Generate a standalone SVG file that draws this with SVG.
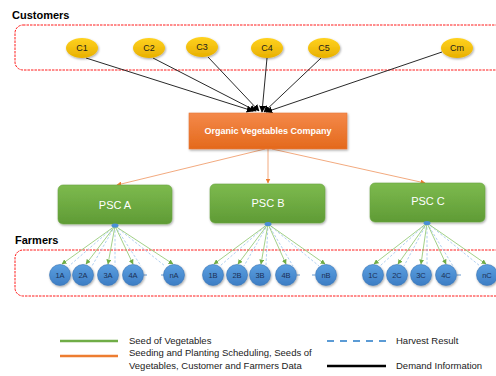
<svg xmlns="http://www.w3.org/2000/svg" width="496" height="376" viewBox="0 0 496 376">
<defs>
<linearGradient id="gY" x1="0" y1="0" x2="0" y2="1"><stop offset="0" stop-color="#ffd21f"/><stop offset="1" stop-color="#e8b000"/></linearGradient>
<linearGradient id="gO" x1="0" y1="0" x2="0" y2="1"><stop offset="0" stop-color="#f4894a"/><stop offset="1" stop-color="#e4691c"/></linearGradient>
<linearGradient id="gG" x1="0" y1="0" x2="0" y2="1"><stop offset="0" stop-color="#7dba4e"/><stop offset="1" stop-color="#5f9b35"/></linearGradient>
<linearGradient id="gB" x1="0" y1="0" x2="0" y2="1"><stop offset="0" stop-color="#5b9fe0"/><stop offset="1" stop-color="#3d7dc4"/></linearGradient>
<filter id="sh" x="-20%" y="-20%" width="140%" height="150%"><feDropShadow dx="0.8" dy="1.2" stdDeviation="0.9" flood-color="#000" flood-opacity="0.35"/></filter>
<marker id="mK" viewBox="0 0 10 10" refX="9" refY="5" markerWidth="7" markerHeight="7" orient="auto" markerUnits="userSpaceOnUse"><path d="M0,0 L10,5 L0,10 z" fill="#000"/></marker>
<marker id="mO" viewBox="0 0 10 10" refX="9" refY="5" markerWidth="5" markerHeight="5" orient="auto" markerUnits="userSpaceOnUse"><path d="M0,0 L10,5 L0,10 z" fill="#ed7d31"/></marker>
<marker id="mG" viewBox="0 0 10 10" refX="9" refY="5" markerWidth="5" markerHeight="5" orient="auto" markerUnits="userSpaceOnUse"><path d="M0,0 L10,5 L0,10 z" fill="#70ad47"/></marker>
</defs>
<style>
.lbl{font-family:"Liberation Sans",Arial,sans-serif;font-weight:bold;font-size:11px;fill:#000}
.zone{fill:none;stroke:#ff1a1a;stroke-width:1;stroke-dasharray:2.5 1}
.cust{fill:url(#gY);filter:url(#sh)}
.ct{font-family:"Liberation Sans",Arial,sans-serif;font-size:9px;fill:#1a1a1a;text-anchor:middle}
.psc{fill:url(#gG);stroke:#6aa640;stroke-width:0.6;filter:url(#sh)}
.pt{font-family:"Liberation Sans",Arial,sans-serif;font-size:11px;fill:#fff;text-anchor:middle}
.farm{fill:url(#gB);stroke:#3a75b5;stroke-width:0.6;filter:url(#sh)}
.ft{font-family:"Liberation Sans",Arial,sans-serif;font-size:7.5px;fill:#1c2f55;text-anchor:middle}
.dem{stroke:#111;stroke-width:0.9;fill:none;marker-end:url(#mK)}
.org{stroke:#f0a070;stroke-width:0.9;fill:none;marker-end:url(#mO)}
.grn{stroke:#8cc46a;stroke-width:0.8;fill:none;marker-end:url(#mG)}
.hv{stroke:#9cc3ec;stroke-width:0.8;fill:none;stroke-dasharray:2.5 1.8}
.tick{stroke:#3d7dc4;stroke-width:0.8}
.hub{fill:#4a8fd6}
.lg{font-family:"Liberation Sans",Arial,sans-serif;font-size:9.5px;fill:#222}
</style>

<text class="lbl" x="12" y="19">Customers</text>
<rect class="zone" x="15" y="25" width="500" height="45" rx="8"/>
<text class="lbl" x="15" y="244">Farmers</text>
<rect class="zone" x="15" y="250" width="500" height="46" rx="8"/>

<g id="connectors">
<line class="dem" x1="86" y1="58" x2="253" y2="111"/>
<line class="dem" x1="153" y1="58" x2="256" y2="111"/>
<line class="dem" x1="208" y1="57" x2="259" y2="111"/>
<line class="dem" x1="267" y1="58" x2="262" y2="112"/>
<line class="dem" x1="321" y1="58" x2="264" y2="112"/>
<line class="dem" x1="442" y1="52" x2="266" y2="112"/>
<line class="org" x1="265" y1="149" x2="117" y2="185"/>
<line class="org" x1="268" y1="149" x2="268" y2="183"/>
<line class="org" x1="272" y1="149" x2="425" y2="183"/>
<g>
<line class="hv" x1="115" y1="226" x2="69" y2="266"/>
<line class="hv" x1="115" y1="226" x2="92" y2="266"/>
<line class="hv" x1="115" y1="226" x2="115" y2="265"/>
<line class="hv" x1="115" y1="226" x2="141" y2="266"/>
<line class="hv" x1="115" y1="226" x2="165" y2="266"/>
<line class="grn" x1="115" y1="226" x2="62" y2="264"/>
<line class="grn" x1="115" y1="226" x2="86" y2="264"/>
<line class="grn" x1="115" y1="226" x2="108" y2="264"/>
<line class="grn" x1="115" y1="226" x2="133" y2="264"/>
<line class="grn" x1="115" y1="226" x2="173" y2="264"/>
</g>
<g>
<line class="hv" x1="268" y1="224" x2="220" y2="266"/>
<line class="hv" x1="268" y1="224" x2="244" y2="266"/>
<line class="hv" x1="268" y1="224" x2="266" y2="265"/>
<line class="hv" x1="268" y1="224" x2="293" y2="266"/>
<line class="hv" x1="268" y1="224" x2="319" y2="266"/>
<line class="grn" x1="268" y1="224" x2="214" y2="264"/>
<line class="grn" x1="268" y1="224" x2="238" y2="264"/>
<line class="grn" x1="268" y1="224" x2="261" y2="264"/>
<line class="grn" x1="268" y1="224" x2="286" y2="264"/>
<line class="grn" x1="268" y1="224" x2="325" y2="264"/>
</g>
<g>
<line class="hv" x1="427" y1="223" x2="380" y2="266"/>
<line class="hv" x1="427" y1="223" x2="404" y2="266"/>
<line class="hv" x1="427" y1="223" x2="427" y2="265"/>
<line class="hv" x1="427" y1="223" x2="453" y2="266"/>
<line class="hv" x1="427" y1="223" x2="480" y2="266"/>
<line class="grn" x1="427" y1="223" x2="374" y2="264"/>
<line class="grn" x1="427" y1="223" x2="398" y2="264"/>
<line class="grn" x1="427" y1="223" x2="421" y2="264"/>
<line class="grn" x1="427" y1="223" x2="446" y2="264"/>
<line class="grn" x1="427" y1="223" x2="486" y2="264"/>
</g>
<line class="tick" x1="144" y1="275" x2="147" y2="275"/>
<line class="tick" x1="161" y1="275" x2="164" y2="275"/>
<line class="tick" x1="297" y1="275" x2="300" y2="275"/>
<line class="tick" x1="312" y1="275" x2="315" y2="275"/>
<line class="tick" x1="457" y1="275" x2="461" y2="275"/>
</g>

<g id="C1"><ellipse class="cust" cx="82" cy="48" rx="16" ry="10"/><text class="ct" x="82" y="51">C1</text></g>
<g id="C2"><ellipse class="cust" cx="149" cy="48" rx="16" ry="10"/><text class="ct" x="149" y="51">C2</text></g>
<g id="C3"><ellipse class="cust" cx="202" cy="47" rx="16" ry="10"/><text class="ct" x="202" y="50">C3</text></g>
<g id="C4"><ellipse class="cust" cx="267" cy="48" rx="16" ry="10"/><text class="ct" x="267" y="51">C4</text></g>
<g id="C5"><ellipse class="cust" cx="324" cy="48" rx="16" ry="10"/><text class="ct" x="324" y="51">C5</text></g>
<g id="Cm"><ellipse class="cust" cx="457" cy="48" rx="16" ry="10"/><text class="ct" x="457" y="51">Cm</text></g>

<g id="company"><rect x="189" y="113" width="158" height="36" fill="url(#gO)" stroke="#e8793a" stroke-width="0.6" filter="url(#sh)"/><text x="268" y="134" font-family="Liberation Sans, Arial, sans-serif" font-weight="bold" font-size="9" fill="#fff" text-anchor="middle">Organic Vegetables Company</text></g>

<g id="PSC_A"><rect class="psc" x="58" y="185" width="114" height="39" rx="5"/><text class="pt" x="115" y="209">PSC A</text><ellipse class="hub" cx="115" cy="225.5" rx="3.5" ry="2"/></g>
<g id="PSC_B"><rect class="psc" x="210" y="184" width="115" height="39" rx="5"/><text class="pt" x="268" y="207">PSC B</text><ellipse class="hub" cx="268" cy="224" rx="3.5" ry="2"/></g>
<g id="PSC_C"><rect class="psc" x="370" y="183" width="115" height="39" rx="5"/><text class="pt" x="428" y="205">PSC C</text><ellipse class="hub" cx="427" cy="223" rx="3.5" ry="2"/></g>

<g id="F1A"><circle class="farm" cx="60" cy="275" r="10.5"/><text class="ft" x="60" y="278">1A</text></g>
<g id="F2A"><circle class="farm" cx="83" cy="275" r="10.5"/><text class="ft" x="83" y="278">2A</text></g>
<g id="F3A"><circle class="farm" cx="108" cy="275" r="10.5"/><text class="ft" x="108" y="278">3A</text></g>
<g id="F4A"><circle class="farm" cx="133" cy="275" r="10.5"/><text class="ft" x="133" y="278">4A</text></g>
<g id="FnA"><circle class="farm" cx="174" cy="275" r="10.5"/><text class="ft" x="174" y="278">nA</text></g>
<g id="F1B"><circle class="farm" cx="213" cy="275" r="10.5"/><text class="ft" x="213" y="278">1B</text></g>
<g id="F2B"><circle class="farm" cx="237" cy="275" r="10.5"/><text class="ft" x="237" y="278">2B</text></g>
<g id="F3B"><circle class="farm" cx="260" cy="275" r="10.5"/><text class="ft" x="260" y="278">3B</text></g>
<g id="F4B"><circle class="farm" cx="286" cy="275" r="10.5"/><text class="ft" x="286" y="278">4B</text></g>
<g id="FnB"><circle class="farm" cx="326" cy="275" r="10.5"/><text class="ft" x="326" y="278">nB</text></g>
<g id="F1C"><circle class="farm" cx="373" cy="275" r="10.5"/><text class="ft" x="373" y="278">1C</text></g>
<g id="F2C"><circle class="farm" cx="397" cy="275" r="10.5"/><text class="ft" x="397" y="278">2C</text></g>
<g id="F3C"><circle class="farm" cx="421" cy="275" r="10.5"/><text class="ft" x="421" y="278">3C</text></g>
<g id="F4C"><circle class="farm" cx="446" cy="275" r="10.5"/><text class="ft" x="446" y="278">4C</text></g>
<g id="FnC"><circle class="farm" cx="487" cy="275" r="10.5"/><text class="ft" x="487" y="278">nC</text></g>

<g id="legend">
<line x1="60" y1="341" x2="118" y2="341" stroke="#70ad47" stroke-width="2.5"/>
<text class="lg" x="129" y="344">Seed of Vegetables</text>
<line x1="60" y1="356" x2="118" y2="356" stroke="#ed7d31" stroke-width="2.5"/>
<text class="lg" x="129" y="356">Seeding and Planting Scheduling, Seeds of</text>
<text class="lg" x="129" y="369">Vegetables, Customer and Farmers Data</text>
<line x1="327" y1="341" x2="386" y2="341" stroke="#5b9bd5" stroke-width="2" stroke-dasharray="7 6"/>
<text class="lg" x="396" y="344">Harvest Result</text>
<line x1="327" y1="366" x2="386" y2="366" stroke="#000" stroke-width="2.5"/>
<text class="lg" x="396" y="369">Demand Information</text>
</g>
</svg>
